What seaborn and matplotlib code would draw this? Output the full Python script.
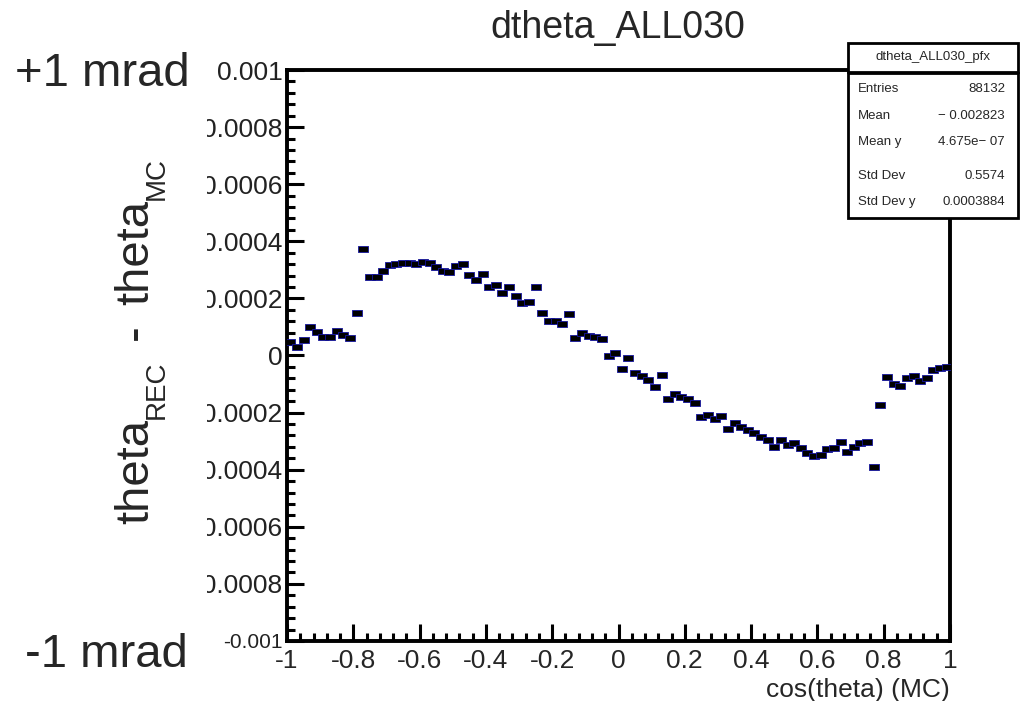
import numpy as np
import pandas as pd
import matplotlib
matplotlib.use("Agg")
import matplotlib.pyplot as plt
import seaborn as sns
from matplotlib.ticker import FixedLocator, FixedFormatter, AutoMinorLocator
from matplotlib.patches import Rectangle
from matplotlib.path import Path
from matplotlib.transforms import Bbox

# ---------------- data (TProfile, 100 bins in cos(theta) from -1 to 1) ----------------
cos_theta = np.round(np.linspace(-0.99, 0.99, 100), 2)   # bin centres

# mean dtheta per bin, in units of 1e-4 rad
dtheta_neg_half = [0.48, 0.31, 0.54, 0.99, 0.82, 0.66, 0.65, 0.86, 0.73, 0.60,
                   1.50, 3.74, 2.74, 2.74, 2.95, 3.16, 3.20, 3.23, 3.23, 3.19,
                   3.29, 3.25, 3.11, 2.97, 2.94, 3.12, 3.20, 2.82, 2.64, 2.85,
                   2.40, 2.48, 2.18, 2.40, 2.08, 1.83, 1.86, 2.39, 1.48, 1.22,
                   1.22, 1.10, 1.45, 0.60, 0.78, 0.68, 0.66, 0.57, -0.02, 0.09]
dtheta_pos_half = [-0.48, -0.09, -0.62, -0.72, -0.86, -1.09, -0.68, -1.53, -1.35, -1.44,
                   -1.53, -1.67, -2.16, -2.08, -2.22, -2.12, -2.58, -2.35, -2.49, -2.61,
                   -2.72, -2.87, -2.96, -3.22, -2.96, -3.13, -3.08, -3.25, -3.43, -3.52,
                   -3.49, -3.28, -3.25, -3.02, -3.37, -3.19, -3.08, -3.02, -3.90, -1.73,
                   -0.74, -1.00, -1.07, -0.80, -0.72, -0.88, -0.80, -0.51, -0.45, -0.41]
dtheta = np.array(dtheta_neg_half + dtheta_pos_half) * 1e-4

x_ticks = [-1, -0.8, -0.6, -0.4, -0.2, 0, 0.2, 0.4, 0.6, 0.8, 1]
x_tick_labels = ["-1", "-0.8", "-0.6", "-0.4", "-0.2", "0", "0.2", "0.4", "0.6", "0.8", "1"]
y_ticks = [-0.001, -0.0008, -0.0006, -0.0004, -0.0002, 0, 0.0002, 0.0004, 0.0006, 0.0008, 0.001]
y_tick_labels = ["-0.001", "-0.0008", "-0.0006", "-0.0004", "-0.0002", "0",
                 "0.0002", "0.0004", "0.0006", "0.0008", "0.001"]

title = "dtheta_ALL030"
x_label = "cos(theta) (MC)"
y_label_parts = [("theta", False), ("REC", True), ("-", False), ("theta", False), ("MC", True)]
top_note = "+1 mrad"
bottom_note = "-1 mrad"

stats_title = "dtheta_ALL030_pfx"
stats_names = ["Entries", "Mean", "Mean y", "Std Dev", "Std Dev y"]
stats_values = ["88132", "\u2212 0.002823", "4.675e\u2212 07", "0.5574", "0.0003884"]

# ---------------- style ----------------
sns.set_theme(style="white")
plt.rcParams['font.family'] = ['Liberation Sans', 'DejaVu Sans']
plt.rcParams['axes.unicode_minus'] = False

W, H = 1026, 701
fig = plt.figure(figsize=(W / 100, H / 100), dpi=100)
fig.patch.set_facecolor('white')


def fx(x):
    return x / W


def fy(y):
    return 1 - y / H


ax = fig.add_axes([fx(287), fy(641), fx(950) - fx(287), fy(70) - fy(641)])
ax.set_facecolor('white')

df = pd.DataFrame({"cos_theta": cos_theta, "dtheta": dtheta})
rect_marker = Path([(-1, -0.62), (1, -0.62), (1, 0.62), (-1, 0.62), (-1, -0.62)], closed=True)
sns.scatterplot(data=df, x="cos_theta", y="dtheta", ax=ax, marker=rect_marker, s=56,
                color="black", edgecolor="#1515a0", linewidth=0.6, zorder=3, legend=False)

ax.set_xlim(-1, 1)
ax.set_ylim(-0.001, 0.001)
ax.set_xlabel("")
ax.set_ylabel("")

for sp in ax.spines.values():
    sp.set_linewidth(2.8)
    sp.set_color("black")
    sp.set_visible(True)

ax.xaxis.set_major_locator(FixedLocator(x_ticks))
ax.xaxis.set_major_formatter(FixedFormatter(x_tick_labels))
ax.yaxis.set_major_locator(FixedLocator(y_ticks))
ax.yaxis.set_major_formatter(FixedFormatter(y_tick_labels))
ax.xaxis.set_minor_locator(AutoMinorLocator(5))
ax.yaxis.set_minor_locator(AutoMinorLocator(5))

ax.tick_params(which='both', direction='in', bottom=True, left=True, top=False, right=False,
               color='black', width=2.2)
ax.tick_params(which='major', length=12)
ax.tick_params(which='minor', length=6)
ax.tick_params(axis='x', which='major', labelsize=19, pad=6)
ax.tick_params(axis='y', which='major', labelsize=19, pad=3, labelcolor='#222222')

# texts around the plot
fig.text(fx(618), fy(38), title, ha='center', va='baseline', fontsize=27)
fig.text(fx(950), fy(697), x_label, ha='right', va='baseline', fontsize=19)
fig.text(fx(15), fy(86), top_note, ha='left', va='baseline', fontsize=34)
fig.text(fx(25), fy(667), bottom_note, ha='left', va='baseline', fontsize=34)


# stats box
def add_rect(x0, y0, x1, y1, lw=2.0):
    fig.add_artist(Rectangle((fx(x0), fy(y1)), fx(x1) - fx(x0), fy(y0) - fy(y1),
                             transform=fig.transFigure, facecolor='white',
                             edgecolor='black', linewidth=lw, zorder=10))


add_rect(848, 73, 1018, 218)
add_rect(848, 43, 1018, 72)
fig.text(fx(933), fy(57), stats_title, ha='center', va='center', fontsize=9.5, zorder=11)
row_y = [89, 116, 142, 176, 202]
for name, val, yy in zip(stats_names, stats_values, row_y):
    fig.text(fx(858), fy(yy), name, ha='left', va='center', fontsize=9.5, zorder=11)
    fig.text(fx(1005), fy(yy), val, ha='right', va='center', fontsize=9.5, zorder=11)

# rotated y label built piecewise (ROOT-like, strongly lowered subscripts)
fig.canvas.draw()
renderer = fig.canvas.get_renderer()
base_x = 148          # baseline position (pixels from left)
cur_y = 524           # start (pixels from top), text runs upward
main_size, sub_size, sub_drop = 34, 20, 16
gap = 20
for i, (txt, is_sub) in enumerate(y_label_parts):
    size = sub_size if is_sub else main_size
    dx = sub_drop if is_sub else 0
    t = fig.text(fx(base_x + dx), fy(cur_y), txt, rotation=90, rotation_mode='anchor',
                 ha='left', va='baseline', fontsize=size)
    bb = t.get_window_extent(renderer)
    cur_y -= bb.height
    if txt in ("REC", "-"):
        cur_y -= gap

# clip the y tick labels at the pad's left edge like the original
fig.canvas.draw()
clip = Bbox.from_extents(207, -1000, 5000, 5000)
ylabels = ax.get_yticklabels()
for lbl in ylabels:
    lbl.set_clip_box(clip)
    lbl.set_clip_on(True)
ylabels[0].set_fontsize(15)

fig.savefig("out.png", dpi=100, facecolor='white')
